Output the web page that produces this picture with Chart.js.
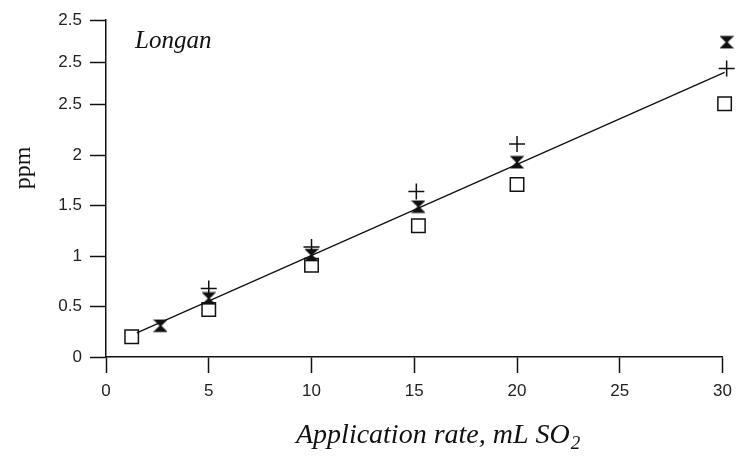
<!DOCTYPE html>
<html>
<head>
<meta charset="utf-8">
<title>Longan</title>
<script src="https://cdn.jsdelivr.net/npm/chart.js@4"></script>
<style>
  html, body { margin: 0; padding: 0; background: #fff; }
  canvas { display: block; }
</style>
</head>
<body>
<canvas id="chart" width="740" height="462"></canvas>
<script>
// data
const rateSquare = [1.25, 5, 10, 15.2, 20, 30.1];
const ppmSquare = [0.20, 0.47, 0.91, 1.30, 1.71, 2.51];

const rateBowtie = [2.65, 5, 10, 15.2, 20, 30.2];
const ppmBowtie = [0.31, 0.58, 1.01, 1.49, 1.93, 3.12];

const ratePlus = [5, 10, 15.1, 20, 30.2];
const ppmPlus = [0.68, 1.09, 1.64, 2.11, 2.86];

// fitted line
const fitRate = [1.5, 30.1];
const fitPpm = [0.24, 2.82];

// the scan repeats "2.5" on the top three ticks
const yTickValues = [0, 0.5, 1, 1.5, 2, 2.5, 2.92, 3.34];
const yTickLabels = ['0', '0.5', '1', '1.5', '2', '2.5', '2.5', '2.5'];

const toPoints = (xs, ys) => xs.map((x, i) => ({ x: x, y: ys[i] }));

// hourglass marker
const bowtie = document.createElement('canvas');
bowtie.width = 14;
bowtie.height = 14;
let bctx = bowtie.getContext('2d');
bctx.fillStyle = '#111';
bctx.strokeStyle = '#111';
bctx.lineWidth = 1.5;
bctx.beginPath();
bctx.moveTo(1.5, 1.5);
bctx.lineTo(12.5, 1.5);
bctx.lineTo(1.5, 12.5);
bctx.lineTo(12.5, 12.5);
bctx.closePath();
bctx.fill();
bctx.stroke();

const ink = '#111';

const textPlugin = {
    id: 'scanText',
    afterDraw(chart) {
        let ctx = chart.ctx;
        ctx.save();
        ctx.fillStyle = ink;

        ctx.font = 'italic 25px "Liberation Serif", serif';
        ctx.textAlign = 'left';
        ctx.textBaseline = 'alphabetic';
        ctx.fillText('Longan', 135, 48);

        // x axis title with subscript
        ctx.font = 'italic 28px "Liberation Serif", serif';
        let main = 'Application rate, mL SO';
        ctx.fillText(main, 296, 443);
        let w = ctx.measureText(main).width;
        ctx.font = 'italic 19px "Liberation Serif", serif';
        ctx.fillText('2', 296 + w + 1, 449);

        // y axis title
        ctx.translate(24, 168);
        ctx.rotate(-Math.PI / 2);
        ctx.font = '24px "Liberation Serif", serif';
        ctx.textAlign = 'center';
        ctx.textBaseline = 'middle';
        ctx.fillText('ppm', 0, 0);
        ctx.restore();
    }
};

let ctx = document.getElementById('chart').getContext('2d');

let chart = new Chart(ctx, {
    type: 'scatter',
    data: {
        datasets: [
            {
                label: 'fit',
                data: toPoints(fitRate, fitPpm),
                showLine: true,
                pointRadius: 0,
                borderColor: ink,
                borderWidth: 1.3,
                clip: false,
                order: 4
            },
            {
                label: 'square',
                data: toPoints(rateSquare, ppmSquare),
                pointStyle: 'rect',
                pointRadius: 9.5,
                borderColor: ink,
                borderWidth: 1.5,
                backgroundColor: 'rgba(255,255,255,0)',
                clip: false,
                order: 3
            },
            {
                label: 'plus',
                data: toPoints(ratePlus, ppmPlus),
                pointStyle: 'cross',
                pointRadius: 8,
                borderColor: ink,
                borderWidth: 1.5,
                clip: false,
                order: 2
            },
            {
                label: 'bowtie',
                data: toPoints(rateBowtie, ppmBowtie),
                pointStyle: bowtie,
                clip: false,
                order: 1
            }
        ]
    },
    options: {
        responsive: false,
        animation: false,
        layout: {
            padding: { top: 20, right: 15, left: 0, bottom: 0 }
        },
        plugins: {
            legend: { display: false },
            tooltip: { enabled: false }
        },
        scales: {
            x: {
                type: 'linear',
                min: 0,
                max: 30,
                afterFit: (s) => { s.height = 105; },
                border: { display: true, color: ink, width: 1.5 },
                grid: {
                    drawOnChartArea: false,
                    drawTicks: true,
                    tickLength: 16,
                    tickColor: ink,
                    tickWidth: 1.5
                },
                ticks: {
                    stepSize: 5,
                    padding: 8,
                    color: '#222',
                    font: { family: '"Liberation Sans", sans-serif', size: 17 }
                }
            },
            y: {
                type: 'linear',
                min: 0,
                max: 3.34,
                afterFit: (s) => { s.width = 106; },
                afterBuildTicks: (s) => {
                    s.ticks = yTickValues.map(v => ({ value: v }));
                },
                border: { display: true, color: ink, width: 1.5 },
                grid: {
                    drawOnChartArea: false,
                    drawTicks: true,
                    tickLength: 16,
                    tickColor: ink,
                    tickWidth: 1.5
                },
                ticks: {
                    padding: 8,
                    color: '#222',
                    font: { family: '"Liberation Sans", sans-serif', size: 17 },
                    callback: (value, index) => yTickLabels[index]
                }
            }
        }
    },
    plugins: [textPlugin]
});
</script>
</body>
</html>
